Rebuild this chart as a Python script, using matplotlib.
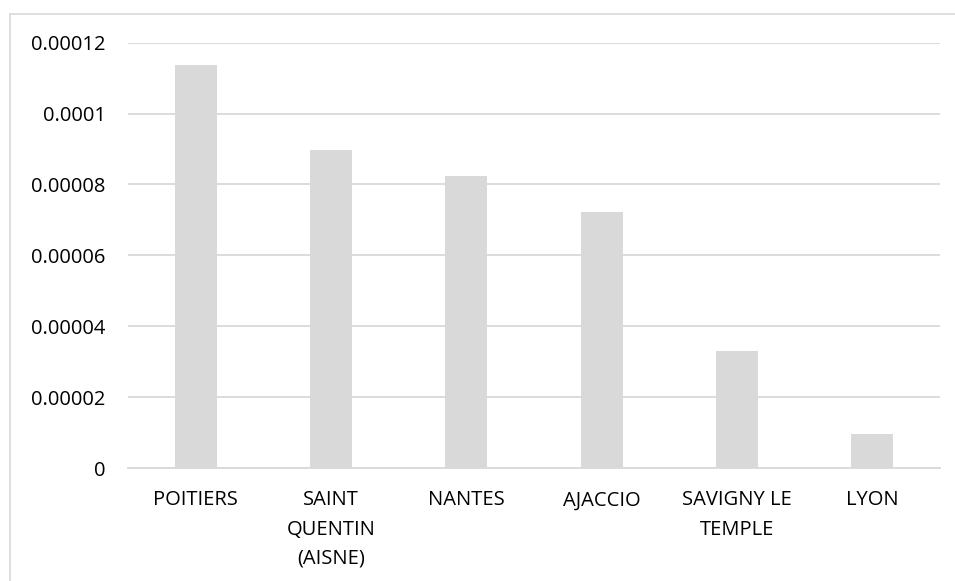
import matplotlib.pyplot as plt
from matplotlib.lines import Line2D

cities = ['POITIERS', 'SAINT\nQUENTIN\n(AISNE)', 'NANTES', 'AJACCIO', 'SAVIGNY LE\nTEMPLE', 'LYON']
values = [0.0001136, 0.0000897, 0.0000824, 0.0000722, 0.000033, 0.0000097]
yticks = [0, 0.00002, 0.00004, 0.00006, 0.00008, 0.0001, 0.00012]
ytick_labels = ['0', '0.00002', '0.00004', '0.00006', '0.00008', '0.0001', '0.00012']

plt.rcParams['font.family'] = ['Open Sans', 'DejaVu Sans']

W, H = 955, 581
fig = plt.figure(figsize=(W / 100, H / 100), dpi=100)
ax = fig.add_axes([128 / W, 1 - 468 / H, (940 - 128) / W, (468 - 42.7) / H])

ax.bar(range(len(cities)), values, width=0.31, color='#d9d9d9', zorder=2)
ax.set_xlim(-0.5, len(cities) - 0.5)
ax.set_ylim(0, 0.00012)
ax.set_yticks(yticks)
ax.set_yticklabels(ytick_labels)
ax.set_xticks(range(len(cities)))
ax.set_xticklabels(cities, linespacing=1.62, va='top')
ax.grid(axis='y', color='#d9d9d9', linewidth=1.3, zorder=0)
for s in ['top', 'right', 'left']:
    ax.spines[s].set_visible(False)
ax.spines['bottom'].set_color('#d9d9d9')
ax.spines['bottom'].set_linewidth(1.3)
ax.tick_params(axis='both', length=0, labelsize=14.5, colors='black')
ax.tick_params(axis='y', pad=16)
ax.tick_params(axis='x', pad=16)

# chart border
fig.add_artist(Line2D([10 / W, 10 / W], [0, 1 - 14 / H], color='#d9d9d9', linewidth=1.2))
fig.add_artist(Line2D([10 / W, 1], [1 - 14 / H, 1 - 14 / H], color='#d9d9d9', linewidth=1.2))

fig.savefig('out.png', dpi=100)
